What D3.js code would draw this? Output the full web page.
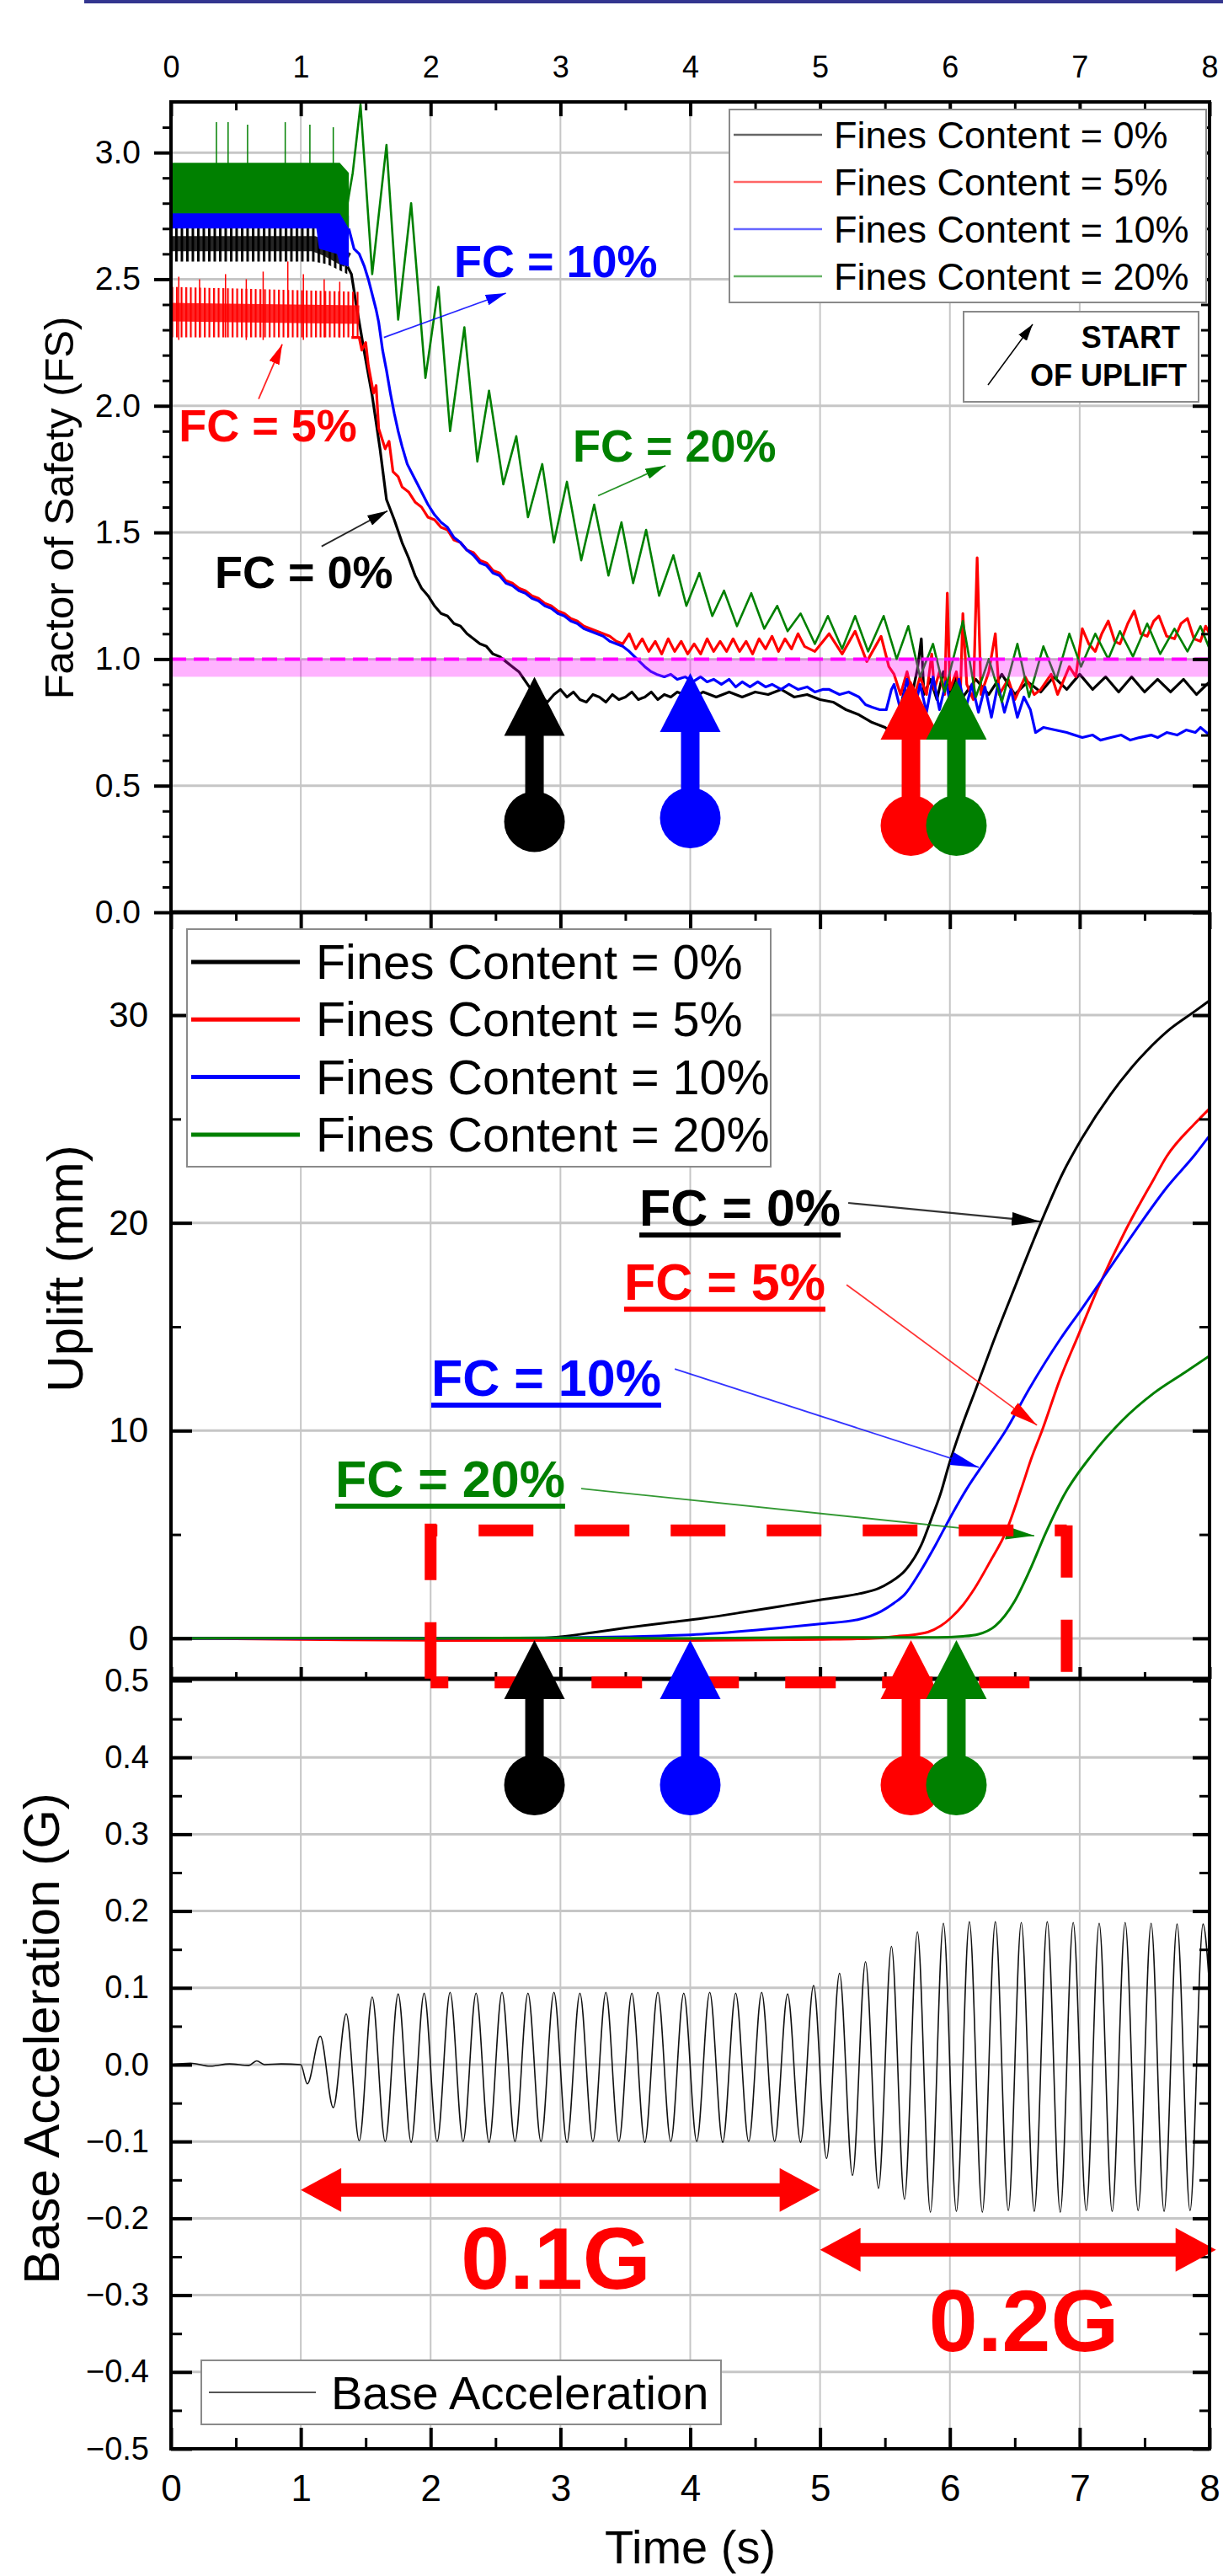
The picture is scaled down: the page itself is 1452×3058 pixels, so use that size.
<!DOCTYPE html>
<html>
<head>
<meta charset="utf-8">
<script src="https://cdn.jsdelivr.net/npm/d3@7/dist/d3.min.js"></script>
<style>
  body { margin: 0; background: #fff; }
  svg { display: block; }
</style>
</head>
<body>
<div id="chart"></div>
<script>
const FONT = '"Liberation Sans", Arial, Helvetica, sans-serif';

// ---------------- data ----------------
const seriesNames = ['Fines Content = 0%', 'Fines Content = 5%', 'Fines Content = 10%', 'Fines Content = 20%'];
const seriesColors = ['#000000', '#ff0000', '#0000ff', '#008000'];
const fcLabels = ['FC = 0%', 'FC = 5%', 'FC = 10%', 'FC = 20%'];

// time of start of uplift (s) and FS at that moment
const upliftStart = [2.8, 5.7, 4.0, 6.05];
const fsAtStart = [0.93, 0.915, 0.945, 0.915];

// noisy plateau of FS before shaking: [t, low, high]
const fsBand0 = [[0, 2.57, 2.71], [1.1, 2.57, 2.71], [1.2, 2.56, 2.68], [1.36, 2.52, 2.63]];
const fsBand5 = [[0, 2.27, 2.47], [1.45, 2.27, 2.45]];
const fsBand10 = [[0, 2.70, 2.80], [1.12, 2.70, 2.80], [1.14, 2.62, 2.78], [1.28, 2.60, 2.77], [1.30, 2.56, 2.84], [1.37, 2.55, 2.75]];
const fsBand20 = [[0, 2.76, 2.96], [1.30, 2.76, 2.96], [1.37, 2.70, 2.92]];
const fsSpikes5 = [[0.06, 2.26, 2.51], [0.22, 2.27, 2.50], [0.42, 2.27, 2.52], [0.58, 2.26, 2.50], [0.71, 2.26, 2.53], [0.9, 2.27, 2.57], [1.02, 2.26, 2.52], [1.18, 2.27, 2.50], [1.3, 2.27, 2.49]];
const fsSpikes20 = [[0.35, 2.95, 3.12], [0.44, 2.95, 3.12], [0.59, 2.95, 3.11], [0.88, 2.95, 3.12], [1.07, 2.95, 3.11], [1.25, 2.95, 3.10]];

const fs0 = [[1.36,2.55],[1.39,2.52],[1.43,2.39],[1.49,2.21],[1.55,2.04],[1.61,1.83],[1.66,1.63],[1.72,1.55],[1.78,1.46],[1.83,1.40],[1.88,1.33],[1.93,1.28],[1.98,1.25],[2.03,1.21],[2.08,1.18],[2.13,1.17],[2.18,1.14],[2.23,1.13],[2.28,1.10],[2.33,1.08],[2.38,1.06],[2.43,1.05],[2.48,1.02],[2.53,1.01],[2.58,0.99],[2.63,0.97],[2.68,0.95],[2.72,0.92],[2.76,0.89],[2.8,0.87],[2.85,0.85],[2.9,0.83],[2.95,0.86],[3.0,0.88],[3.05,0.85],[3.1,0.87],[3.15,0.84],[3.2,0.83],[3.25,0.86],[3.3,0.85],[3.35,0.83],[3.4,0.86],[3.45,0.84],[3.5,0.85],[3.55,0.87],[3.6,0.84],[3.65,0.85],[3.7,0.87],[3.75,0.84],[3.8,0.86],[3.85,0.85],[3.9,0.87],[3.95,0.86],[4.0,0.84],[4.1,0.87],[4.2,0.85],[4.3,0.87],[4.4,0.85],[4.5,0.87],[4.6,0.86],[4.7,0.88],[4.8,0.85],[4.9,0.86],[5.0,0.84],[5.1,0.83],[5.2,0.80],[5.3,0.78],[5.4,0.75],[5.5,0.73],[5.55,0.71],[5.6,0.76],[5.65,0.88],[5.7,0.84],[5.75,0.96],[5.78,1.08],[5.8,0.86],[5.85,0.92],[5.9,0.84],[5.95,0.95],[6.0,0.86],[6.05,0.93],[6.1,0.85],[6.2,0.92],[6.3,0.86],[6.4,0.94],[6.5,0.86],[6.6,0.91],[6.7,0.87],[6.8,0.93],[6.9,0.88],[7.0,0.94],[7.1,0.88],[7.2,0.93],[7.3,0.87],[7.4,0.93],[7.5,0.87],[7.6,0.92],[7.7,0.87],[7.8,0.92],[7.9,0.86],[8.0,0.91]];
const fs5 = [[1.39,2.27],[1.45,2.27],[1.47,2.22],[1.5,2.25],[1.52,2.16],[1.56,2.05],[1.58,2.08],[1.60,1.91],[1.65,1.83],[1.68,1.86],[1.71,1.74],[1.75,1.72],[1.78,1.68],[1.83,1.66],[1.88,1.62],[1.93,1.60],[1.98,1.56],[2.03,1.55],[2.08,1.52],[2.13,1.51],[2.18,1.47],[2.23,1.46],[2.28,1.43],[2.33,1.42],[2.38,1.39],[2.43,1.38],[2.48,1.35],[2.53,1.34],[2.58,1.31],[2.63,1.30],[2.68,1.28],[2.73,1.27],[2.78,1.25],[2.83,1.24],[2.88,1.22],[2.93,1.21],[2.98,1.19],[3.03,1.18],[3.08,1.16],[3.13,1.15],[3.18,1.13],[3.23,1.12],[3.28,1.11],[3.33,1.10],[3.38,1.09],[3.43,1.07],[3.48,1.06],[3.53,1.10],[3.58,1.04],[3.63,1.08],[3.68,1.03],[3.73,1.07],[3.78,1.02],[3.83,1.08],[3.88,1.03],[3.93,1.07],[3.98,1.02],[4.03,1.06],[4.08,1.02],[4.13,1.08],[4.18,1.03],[4.23,1.07],[4.28,1.03],[4.33,1.08],[4.38,1.03],[4.43,1.07],[4.48,1.02],[4.53,1.08],[4.58,1.04],[4.63,1.09],[4.68,1.03],[4.73,1.08],[4.78,1.04],[4.83,1.10],[4.88,1.05],[4.96,1.03],[5.07,1.10],[5.17,1.02],[5.27,1.11],[5.36,0.99],[5.47,1.09],[5.53,0.97],[5.57,0.94],[5.62,0.86],[5.67,0.95],[5.72,0.84],[5.77,0.93],[5.82,0.86],[5.86,1.02],[5.88,0.88],[5.92,0.95],[5.96,0.86],[5.98,1.26],[6.0,0.88],[6.05,0.95],[6.08,0.85],[6.1,1.18],[6.13,0.90],[6.18,0.84],[6.21,1.40],[6.24,0.86],[6.3,0.95],[6.35,1.10],[6.38,0.86],[6.45,0.92],[6.5,0.84],[6.58,0.93],[6.65,0.86],[6.7,0.88],[6.78,0.94],[6.83,0.86],[6.92,0.97],[6.97,0.93],[7.02,1.12],[7.07,1.06],[7.12,1.03],[7.17,1.10],[7.22,1.15],[7.27,1.07],[7.31,1.06],[7.37,1.14],[7.42,1.19],[7.47,1.10],[7.52,1.09],[7.57,1.15],[7.61,1.17],[7.67,1.09],[7.73,1.08],[7.78,1.14],[7.83,1.16],[7.88,1.08],[7.93,1.07],[7.97,1.13],[8.0,1.10]];
const fs10 = [[1.37,2.70],[1.41,2.62],[1.45,2.60],[1.49,2.55],[1.52,2.50],[1.55,2.44],[1.58,2.38],[1.6,2.33],[1.63,2.22],[1.66,2.14],[1.69,2.05],[1.72,1.97],[1.75,1.90],[1.78,1.84],[1.82,1.77],[1.87,1.72],[1.93,1.66],[1.98,1.61],[2.03,1.57],[2.08,1.54],[2.13,1.52],[2.18,1.48],[2.23,1.46],[2.28,1.43],[2.33,1.41],[2.38,1.38],[2.43,1.37],[2.48,1.34],[2.53,1.33],[2.58,1.30],[2.63,1.29],[2.68,1.27],[2.73,1.26],[2.78,1.24],[2.83,1.23],[2.88,1.21],[2.93,1.20],[2.98,1.18],[3.03,1.17],[3.08,1.15],[3.13,1.14],[3.18,1.12],[3.23,1.11],[3.28,1.10],[3.33,1.09],[3.38,1.07],[3.43,1.06],[3.48,1.05],[3.53,1.03],[3.59,1.00],[3.65,0.97],[3.70,0.95],[3.74,0.94],[3.8,0.93],[3.85,0.94],[3.9,0.92],[3.96,0.93],[4.02,0.91],[4.08,0.93],[4.13,0.91],[4.18,0.92],[4.24,0.90],[4.3,0.92],[4.35,0.89],[4.4,0.91],[4.46,0.89],[4.52,0.91],[4.58,0.89],[4.63,0.90],[4.7,0.88],[4.76,0.90],[4.83,0.88],[4.9,0.89],[4.96,0.87],[5.02,0.88],[5.07,0.88],[5.15,0.86],[5.22,0.87],[5.3,0.85],[5.35,0.82],[5.4,0.81],[5.46,0.80],[5.51,0.80],[5.55,0.88],[5.57,0.90],[5.62,0.80],[5.67,0.92],[5.72,0.78],[5.77,0.90],[5.82,0.79],[5.87,0.93],[5.92,0.80],[5.97,0.91],[6.02,0.78],[6.07,0.92],[6.12,0.80],[6.17,0.90],[6.22,0.79],[6.27,0.89],[6.32,0.77],[6.37,0.90],[6.42,0.79],[6.47,0.88],[6.52,0.77],[6.57,0.85],[6.62,0.80],[6.66,0.71],[6.72,0.73],[6.81,0.72],[6.9,0.71],[7.02,0.69],[7.1,0.70],[7.16,0.68],[7.24,0.69],[7.32,0.70],[7.39,0.68],[7.46,0.69],[7.55,0.70],[7.6,0.69],[7.67,0.71],[7.75,0.70],[7.82,0.72],[7.89,0.71],[7.93,0.73],[8.0,0.70]];
const fs20 = [[1.30,2.86],[1.36,2.80],[1.40,2.92],[1.46,3.19],[1.55,2.52],[1.66,3.03],[1.75,2.34],[1.85,2.80],[1.96,2.11],[2.06,2.47],[2.15,1.90],[2.26,2.31],[2.36,1.78],[2.45,2.06],[2.56,1.69],[2.66,1.88],[2.75,1.56],[2.86,1.77],[2.95,1.46],[3.05,1.70],[3.16,1.39],[3.26,1.61],[3.37,1.33],[3.47,1.54],[3.56,1.30],[3.66,1.51],[3.76,1.25],[3.87,1.41],[3.97,1.21],[4.07,1.34],[4.17,1.17],[4.26,1.27],[4.36,1.13],[4.47,1.26],[4.57,1.12],[4.67,1.21],[4.75,1.11],[4.85,1.18],[4.96,1.06],[5.06,1.17],[5.17,1.04],[5.27,1.17],[5.37,1.03],[5.49,1.17],[5.59,1.00],[5.68,1.13],[5.77,0.93],[5.87,1.06],[5.96,0.87],[6.1,1.15],[6.2,0.85],[6.3,1.0],[6.4,0.83],[6.52,1.06],[6.61,0.85],[6.72,1.05],[6.82,0.92],[6.92,1.10],[7.01,0.97],[7.12,1.10],[7.22,1.0],[7.31,1.11],[7.41,1.01],[7.52,1.14],[7.62,1.02],[7.73,1.12],[7.83,1.03],[7.93,1.13],[8.0,1.04]];

// uplift (mm)
const up0 = [[0,0],[1,0.02],[2,0],[2.8,0],[3.0,0.08],[3.25,0.28],[3.5,0.5],[3.8,0.74],[4.1,0.97],[4.4,1.25],[4.7,1.55],[5.0,1.85],[5.3,2.15],[5.45,2.4],[5.54,2.7],[5.66,3.3],[5.78,4.5],[5.86,5.8],[5.93,7.0],[5.99,8.3],[6.08,10.0],[6.2,12.0],[6.33,14.2],[6.5,16.9],[6.7,20.0],[6.87,22.4],[7.02,24.1],[7.24,26.2],[7.46,27.9],[7.67,29.2],[7.89,30.2],[8.0,30.7]];
const up5 = [[0,0],[1,-0.05],[2,-0.1],[3,-0.1],[4,-0.1],[5,-0.05],[5.4,0],[5.59,0.1],[5.75,0.2],[5.83,0.3],[5.93,0.6],[6.01,1.0],[6.1,1.6],[6.19,2.4],[6.31,3.7],[6.43,5.1],[6.55,7.2],[6.63,8.7],[6.71,10.0],[6.85,12.5],[6.99,14.6],[7.13,16.7],[7.35,19.6],[7.57,22.1],[7.67,23.2],[7.89,24.8],[8.0,25.5]];
const up10 = [[0,0],[2,0],[3,0.03],[3.5,0.08],[4.09,0.2],[4.69,0.5],[5.0,0.7],[5.29,0.9],[5.47,1.3],[5.57,1.7],[5.65,2.1],[5.77,3.2],[5.89,4.5],[6.01,5.9],[6.13,7.2],[6.28,8.6],[6.43,10.0],[6.61,12.0],[6.85,14.4],[7.02,15.9],[7.24,17.9],[7.46,19.9],[7.67,21.7],[7.89,23.3],[8.0,24.2]];
const up20 = [[0,0],[1,0.02],[2,0],[3,0.03],[4,0],[5,0.05],[5.9,0.05],[6.1,0.1],[6.22,0.2],[6.35,0.6],[6.5,1.8],[6.61,3.2],[6.74,5.1],[6.88,6.9],[7.09,8.8],[7.33,10.5],[7.57,11.8],[7.81,12.8],[8.0,13.6]];

// base acceleration (G): times of turning points and values
const accT = [0,0.15,0.3,0.45,0.6,0.66,0.72,0.85,1.0,1.05,1.15,1.25,1.35,1.45,1.55,1.65,1.75,1.85,1.95,2.05,2.15,2.25,2.35,2.45,2.55,2.65,2.75,2.85,2.95,3.05,3.15,3.25,3.35,3.45,3.55,3.65,3.75,3.85,3.95,4.05,4.15,4.25,4.35,4.45,4.55,4.65,4.75,4.85,4.95,5.05,5.15,5.25,5.35,5.45,5.55,5.65,5.75,5.85,5.95,6.05,6.15,6.25,6.35,6.45,6.55,6.65,6.75,6.85,6.95,7.05,7.15,7.25,7.35,7.45,7.55,7.65,7.75,7.85,7.95,8.0];
const accV = [0,0.002,-0.002,0.001,-0.001,0.005,0,0.001,0,-0.025,0.037,-0.056,0.066,-0.099,0.088,-0.100,0.092,-0.101,0.093,-0.100,0.094,-0.100,0.093,-0.101,0.094,-0.100,0.093,-0.100,0.094,-0.101,0.093,-0.100,0.094,-0.100,0.093,-0.101,0.094,-0.100,0.093,-0.100,0.094,-0.101,0.093,-0.100,0.094,-0.100,0.092,-0.101,0.103,-0.122,0.119,-0.144,0.134,-0.161,0.154,-0.175,0.173,-0.192,0.184,-0.191,0.186,-0.192,0.186,-0.190,0.185,-0.191,0.186,-0.192,0.185,-0.190,0.184,-0.191,0.185,-0.190,0.184,-0.191,0.183,-0.190,0.183,0.10];

// tick values
const timeTicks = [0, 1, 2, 3, 4, 5, 6, 7, 8];
const fsTicks = [0, 0.5, 1.0, 1.5, 2.0, 2.5, 3.0];
const upTicks = [0, 10, 20, 30];
const accTicks = [-0.5, -0.4, -0.3, -0.2, -0.1, 0, 0.1, 0.2, 0.3, 0.4, 0.5];

// annotations, in data units: label [t, value], arrow [t0, v0, t1, v1]
const fsNoteText = [[0.337, 1.282], [0.06, 1.86], [2.18, 2.508], [3.095, 1.78]];
const fsNoteArrow = [[1.16, 1.445, 1.668, 1.585], [0.675, 2.027, 0.857, 2.243], [1.64, 2.27, 2.58, 2.445], [3.29, 1.645, 3.81, 1.764]];
const upNoteText = [[3.608, 19.86], [3.49, 16.29], [2.005, 11.67], [1.265, 6.81]];
const upNoteArrow = [[5.217, 20.96, 6.697, 20.06], [5.204, 17.02, 6.671, 10.26], [3.881, 12.97, 6.223, 8.23], [3.16, 7.21, 6.65, 4.94]];
const fsLimit = [0.93, 1.0];           // band under FS = 1
const upBox = [2.0, 6.9, 5.2, -2.0];   // t0, t1, top, bottom
const gLevels = [{ t0: 1.0, t1: 5.0, y: -0.163, label: '0.1G', lt: 2.965, ly: -0.292 },
                 { t0: 5.0, t1: 8.05, y: -0.241, label: '0.2G', lt: 6.57, ly: -0.373 }];

// ---------------- chart ----------------
const W = 1452, H = 3058;
const svg = d3.select('#chart').append('svg').attr('width', W).attr('height', H)
  .style('font-family', FONT);

const x = d3.scaleLinear().domain([0, 8]).range([203, 1436]);
const yFS = d3.scaleLinear().domain([0, 3.2]).range([1083, 121]);
const yUp = d3.scaleLinear().domain([-1.95, 34.95]).range([1993, 1083]);
const yAcc = d3.scaleLinear().domain([-0.5, 0.5]).range([2907, 1995]);
const L = 203, R = 1436;

// page strip at top
svg.append('rect').attr('x', 100).attr('y', 0).attr('width', W - 100).attr('height', 4).attr('fill', '#33368f');

const defs = svg.append('defs');
[['p1', yFS], ['p2', yUp], ['p3', yAcc]].forEach(([id, y]) => {
  const [b, t] = y.range();
  defs.append('clipPath').attr('id', id).append('rect')
    .attr('x', L).attr('y', t).attr('width', R - L).attr('height', b - t);
});
function marker(id, color, len, wid) {
  defs.append('marker').attr('id', id).attr('markerUnits', 'userSpaceOnUse')
    .attr('markerWidth', len).attr('markerHeight', wid)
    .attr('refX', len).attr('refY', wid / 2).attr('orient', 'auto')
    .append('path').attr('d', `M0,0 L${len},${wid / 2} L0,${wid} Z`).attr('fill', color);
}
seriesColors.forEach((c, i) => { marker('s' + i, c, 24, 13); marker('b' + i, c, 34, 16); });
marker('k', '#000', 20, 12);
// striped texture for the noisy plateaus
function stripes(id, color, w, period) {
  const p = defs.append('pattern').attr('id', id).attr('patternUnits', 'userSpaceOnUse')
    .attr('width', period).attr('height', 40);
  p.append('rect').attr('width', w).attr('height', 40).attr('fill', color);
}
stripes('stK', '#000', 3, 6.5);
stripes('stR', '#ff0000', 2.2, 5.5);

// grid
const grid = svg.append('g').attr('stroke', '#c6c6c6');
timeTicks.slice(1, -1).forEach(t => {
  grid.append('line').attr('x1', x(t)).attr('x2', x(t)).attr('y1', 121).attr('y2', 2907).attr('stroke-width', 2);
});
[[yFS, fsTicks.filter(v => v > 0)], [yUp, upTicks], [yAcc, accTicks.filter(v => Math.abs(v) < 0.5)]].forEach(([y, vals]) => {
  vals.forEach(v => grid.append('line').attr('x1', L).attr('x2', R).attr('y1', y(v)).attr('y2', y(v)).attr('stroke-width', 3));
});

// ---- panel 1: factor of safety ----
const p1 = svg.append('g').attr('clip-path', 'url(#p1)');
const fsLine = d3.line().x(d => x(d[0])).y(d => yFS(d[1]));
const fsMid = d3.line().x(d => x(d[0])).y(d => yFS((d[1] + d[2]) / 2));
const fsArea = d3.area().x(d => x(d[0])).y0(d => yFS(d[1])).y1(d => yFS(d[2]));
const fsBands = [fsBand0, fsBand5, fsBand10, fsBand20];
const bandFill = ['url(#stK)', 'url(#stR)', '#0000ff', '#008000'];
const coreWidth = [18, 22, 0, 0];
const fsLines = [fs0, fs5, fs10, fs20];
const fsSpikes = [[], fsSpikes5, [], fsSpikes20];
fsLines.forEach((s, i) => {
  p1.append('path').datum(fsBands[i]).attr('d', fsArea).attr('fill', bandFill[i]);
  if (coreWidth[i]) {
    p1.append('path').datum(fsBands[i]).attr('d', fsMid).attr('fill', 'none')
      .attr('stroke', seriesColors[i]).attr('stroke-width', coreWidth[i]).attr('stroke-opacity', 0.85);
  }
  fsSpikes[i].forEach(d => p1.append('line').attr('x1', x(d[0])).attr('x2', x(d[0])).attr('y1', yFS(d[1])).attr('y2', yFS(d[2]))
    .attr('stroke', seriesColors[i]).attr('stroke-width', 1.5));
  p1.append('path').datum(s).attr('d', fsLine).attr('fill', 'none')
    .attr('stroke', seriesColors[i]).attr('stroke-width', i === 3 ? 2.6 : 3.2).attr('stroke-linejoin', 'round');
});
p1.append('rect').attr('x', L).attr('width', R - L).attr('y', yFS(fsLimit[1])).attr('height', yFS(fsLimit[0]) - yFS(fsLimit[1]))
  .attr('fill', '#ff00ff').attr('fill-opacity', 0.3);
p1.append('line').attr('x1', L).attr('x2', R).attr('y1', yFS(1)).attr('y2', yFS(1))
  .attr('stroke', '#ff00ff').attr('stroke-width', 4).attr('stroke-dasharray', '18 9');

// ---- panel 2: uplift ----
const p2 = svg.append('g').attr('clip-path', 'url(#p2)');
const upLine = d3.line().x(d => x(d[0])).y(d => yUp(d[1])).curve(d3.curveMonotoneX);
[up0, up5, up10, up20].forEach((s, i) => {
  p2.append('path').datum(s).attr('d', upLine).attr('fill', 'none')
    .attr('stroke', seriesColors[i]).attr('stroke-width', 3);
});

// ---- panel 3: base acceleration ----
const p3 = svg.append('g').attr('clip-path', 'url(#p3)');
const accLine = d3.line().x((d, i) => x(accT[i])).y(d => yAcc(d)).curve(d3.curveMonotoneX);
p3.append('path').datum(accV).attr('d', accLine).attr('fill', 'none').attr('stroke', '#111').attr('stroke-width', 1.6);

// ---- axes ----
function styleAxis(g, size) {
  g.select('.domain').remove();
  g.attr('font-family', FONT).attr('font-size', size);
  g.selectAll('.tick line').attr('stroke', '#000').attr('stroke-width', 4);
  g.selectAll('.tick text').attr('fill', '#000');
}
function addAxis(gen, tx, ty, size, minor, minorSize) {
  const g = svg.append('g').attr('transform', `translate(${tx},${ty})`).call(gen);
  styleAxis(g, size);
  if (minor) {
    const mg = svg.append('g').attr('transform', `translate(${tx},${ty})`)
      .call(minor.tickFormat('').tickSize(minorSize));
    styleAxis(mg, size);
    mg.selectAll('.tick line').attr('stroke-width', 3);
  }
  return g;
}
const minorTime = d3.range(0.5, 8, 1);
// top of panel 1
addAxis(d3.axisTop(x).tickValues(timeTicks).tickSize(-17).tickPadding(29).tickFormat(d3.format('d')), 0, 121, 36,
  d3.axisTop(x).tickValues(minorTime), -10);
// panel 1 / panel 2 boundary
addAxis(d3.axisBottom(x).tickValues(timeTicks).tickSize(20).tickFormat(''), 0, 1083, 36,
  d3.axisBottom(x).tickValues(minorTime), 10);
// panel 2 bottom
addAxis(d3.axisBottom(x).tickValues(timeTicks).tickSize(-14).tickFormat(''), 0, 1993, 36,
  d3.axisBottom(x).tickValues(minorTime), -8);
// bottom of panel 3
addAxis(d3.axisBottom(x).tickValues(timeTicks).tickSize(-25).tickPadding(31).tickFormat(d3.format('d')), 0, 2907, 44,
  d3.axisBottom(x).tickValues(minorTime), -13);

const fsMinor = d3.range(0.1, 3.2, 0.1).filter(v => Math.abs(v * 2 - Math.round(v * 2)) > 0.01);
addAxis(d3.axisLeft(yFS).tickValues(fsTicks).tickSize(20).tickPadding(16).tickFormat(d3.format('.1f')), L, 0, 39,
  d3.axisLeft(yFS).tickValues(fsMinor), 10);
addAxis(d3.axisRight(yFS).tickValues(fsTicks).tickSize(-20).tickFormat(''), R, 0, 39,
  d3.axisRight(yFS).tickValues(fsMinor), -10);

addAxis(d3.axisLeft(yUp).tickValues(upTicks).tickSize(-25).tickPadding(27).tickFormat(d3.format('d')), L, 0, 42,
  d3.axisLeft(yUp).tickValues([5, 15, 25]), -12);
addAxis(d3.axisRight(yUp).tickValues(upTicks).tickSize(-20).tickFormat(''), R, 0, 42,
  d3.axisRight(yUp).tickValues([5, 15, 25]), -12);

const accMinor = d3.range(-0.45, 0.5, 0.1);
addAxis(d3.axisLeft(yAcc).tickValues(accTicks).tickSize(-25).tickPadding(26).tickFormat(d3.format('.1f')), L, 0, 38,
  d3.axisLeft(yAcc).tickValues(accMinor), -13);
addAxis(d3.axisRight(yAcc).tickValues(accTicks).tickSize(-20).tickFormat(''), R, 0, 38,
  d3.axisRight(yAcc).tickValues(accMinor), -12);

// axis titles
function vTitle(text, size, bx, cy) {
  svg.append('text').attr('transform', `translate(${bx},${cy}) rotate(-90)`)
    .attr('text-anchor', 'middle').attr('font-size', size).attr('fill', '#000').text(text);
}
vTitle('Factor of Safety (FS)', 49, 87, 603);
vTitle('Uplift (mm)', 60, 98, 1506);
vTitle('Base Acceleration (G)', 60, 70, 2420);
svg.append('text').attr('x', (L + R) / 2).attr('y', 3043).attr('text-anchor', 'middle')
  .attr('font-size', 56).attr('fill', '#000').text('Time (s)');

// ---- annotations panel 1 ----
const ann = svg.append('g');
fcLabels.forEach((lab, i) => {
  const a = fsNoteArrow[i];
  ann.append('line').attr('x1', x(a[0])).attr('y1', yFS(a[1])).attr('x2', x(a[2])).attr('y2', yFS(a[3]))
    .attr('stroke', seriesColors[i]).attr('stroke-width', 1.8).attr('stroke-opacity', 0.85)
    .attr('marker-end', `url(#s${i})`);
  ann.append('text').attr('x', x(fsNoteText[i][0])).attr('y', yFS(fsNoteText[i][1]))
    .attr('font-size', 54).attr('font-weight', 'bold').attr('fill', seriesColors[i]).text(lab);
});

// ---- annotations panel 2 ----
// dashed zoom box
const bx0 = x(upBox[0]), bx1 = x(upBox[1]), by0 = yUp(upBox[2]), by1 = yUp(upBox[3]) + 3;
const box = svg.append('g').attr('stroke', '#ff0000').attr('stroke-width', 14).attr('fill', 'none');
box.append('line').attr('x1', bx0).attr('x2', bx1).attr('y1', by0).attr('y2', by0).attr('stroke-dasharray', '65 49').attr('stroke-dashoffset', 57);
box.append('line').attr('x1', bx0).attr('x2', bx1).attr('y1', by1).attr('y2', by1).attr('stroke-dasharray', '60 55').attr('stroke-dashoffset', 39);
box.append('line').attr('x1', bx0).attr('x2', bx0).attr('y1', by0 - 8).attr('y2', by1).attr('stroke-dasharray', '67 50');
box.append('line').attr('x1', bx1).attr('x2', bx1).attr('y1', by0 - 6).attr('y2', by1).attr('stroke-dasharray', '62 50');

fcLabels.forEach((lab, i) => {
  const a = upNoteArrow[i];
  ann.append('line').attr('x1', x(a[0])).attr('y1', yUp(a[1])).attr('x2', x(a[2])).attr('y2', yUp(a[3]))
    .attr('stroke', seriesColors[i]).attr('stroke-width', i === 0 ? 2.2 : 1.8).attr('stroke-opacity', 0.8)
    .attr('marker-end', `url(#b${i})`);
  const tx = x(upNoteText[i][0]), ty = yUp(upNoteText[i][1]);
  const t = ann.append('text').attr('x', tx).attr('y', ty)
    .attr('font-size', 61).attr('font-weight', 'bold').attr('fill', seriesColors[i]).text(lab);
  const w = t.node().getComputedTextLength();
  ann.append('rect').attr('x', tx).attr('y', ty + 8).attr('width', w).attr('height', 6).attr('fill', seriesColors[i]);
});

// ---- start-of-uplift markers ----
function bigArrow(g, cx, tipY, color) {
  const headH = 70, headW = 36, shaftW = 11, circY = tipY + 172, r = 36;
  g.append('rect').attr('x', cx - shaftW).attr('y', tipY + headH - 2).attr('width', 2 * shaftW)
    .attr('height', circY - tipY - headH).attr('fill', color);
  g.append('path').attr('d', `M${cx},${tipY} L${cx + headW},${tipY + headH} L${cx - headW},${tipY + headH} Z`).attr('fill', color);
  g.append('circle').attr('cx', cx).attr('cy', circY).attr('r', r).attr('fill', color);
}
const arrowsG = svg.append('g');
[0, 2, 1, 3].forEach(i => {
  bigArrow(arrowsG, x(upliftStart[i]), yFS(fsAtStart[i]), seriesColors[i]);
  bigArrow(arrowsG, x(upliftStart[i]), yUp(0) + 2, seriesColors[i]);
});

// ---- panel 3 annotations ----
gLevels.forEach(d => {
  const x0 = x(d.t0), x1 = x(d.t1), y = yAcc(d.y), hl = 48, hh = 26, sh = 8;
  svg.append('path').attr('fill', '#ff0000')
    .attr('d', `M${x0},${y} L${x0 + hl},${y - hh} L${x0 + hl},${y - sh} L${x1 - hl},${y - sh} L${x1 - hl},${y - hh} L${x1},${y} L${x1 - hl},${y + hh} L${x1 - hl},${y + sh} L${x0 + hl},${y + sh} L${x0 + hl},${y + hh} Z`);
  svg.append('text').attr('x', x(d.lt)).attr('y', yAcc(d.ly)).attr('text-anchor', 'middle')
    .attr('font-size', 104).attr('font-weight', 'bold').attr('fill', '#ff0000').text(d.label);
});

// ---- legends ----
const lg1 = svg.append('g');
lg1.append('rect').attr('x', 866).attr('y', 130).attr('width', 566).attr('height', 229)
  .attr('fill', '#fff').attr('stroke', '#8a8a8a').attr('stroke-width', 2);
seriesNames.forEach((n, i) => {
  const cy = 160 + i * 56;
  lg1.append('line').attr('x1', 871).attr('x2', 976).attr('y1', cy).attr('y2', cy)
    .attr('stroke', seriesColors[i]).attr('stroke-width', 2.5).attr('stroke-opacity', 0.6);
  lg1.append('text').attr('x', 990).attr('y', cy + 16).attr('font-size', 45).attr('fill', '#000').text(n);
});
const lg1b = svg.append('g');
lg1b.append('rect').attr('x', 1144).attr('y', 370).attr('width', 279).attr('height', 107)
  .attr('fill', '#fff').attr('stroke', '#8a8a8a').attr('stroke-width', 2);
lg1b.append('line').attr('x1', 1173).attr('y1', 457).attr('x2', 1226).attr('y2', 385)
  .attr('stroke', '#000').attr('stroke-width', 1.5).attr('marker-end', 'url(#k)');
lg1b.append('text').attr('x', 1401).attr('y', 413).attr('text-anchor', 'end').attr('font-size', 36).attr('font-weight', 'bold').text('START');
lg1b.append('text').attr('x', 1409).attr('y', 458).attr('text-anchor', 'end').attr('font-size', 36).attr('font-weight', 'bold').text('OF UPLIFT');

const lg2 = svg.append('g');
lg2.append('rect').attr('x', 222).attr('y', 1103).attr('width', 693).attr('height', 282)
  .attr('fill', '#fff').attr('stroke', '#8a8a8a').attr('stroke-width', 2);
seriesNames.forEach((n, i) => {
  const cy = 1142 + i * 68.3;
  lg2.append('line').attr('x1', 227).attr('x2', 356).attr('y1', cy).attr('y2', cy)
    .attr('stroke', seriesColors[i]).attr('stroke-width', 5);
  lg2.append('text').attr('x', 375).attr('y', cy + 20).attr('font-size', 57.5).attr('fill', '#000').text(n);
});

const lg3 = svg.append('g');
lg3.append('rect').attr('x', 239).attr('y', 2802).attr('width', 617).attr('height', 76)
  .attr('fill', '#fff').attr('stroke', '#8a8a8a').attr('stroke-width', 2);
lg3.append('line').attr('x1', 248).attr('x2', 375).attr('y1', 2840).attr('y2', 2840).attr('stroke', '#555').attr('stroke-width', 1.8);
lg3.append('text').attr('x', 393).attr('y', 2860).attr('font-size', 56).attr('fill', '#000').text('Base Acceleration');

// ---- frames ----
const fr = svg.append('g').attr('stroke', '#000').attr('fill', 'none');
fr.append('rect').attr('x', L).attr('y', 121).attr('width', R - L).attr('height', 2907 - 121).attr('stroke-width', 4);
fr.append('line').attr('x1', L).attr('x2', R).attr('y1', 1083).attr('y2', 1083).attr('stroke-width', 5);
fr.append('line').attr('x1', L).attr('x2', R).attr('y1', 1993).attr('y2', 1993).attr('stroke-width', 5);
// zoom box & arrows sit above the panel border
svg.node().appendChild(box.node());
svg.node().appendChild(arrowsG.node());
</script>
</body>
</html>
